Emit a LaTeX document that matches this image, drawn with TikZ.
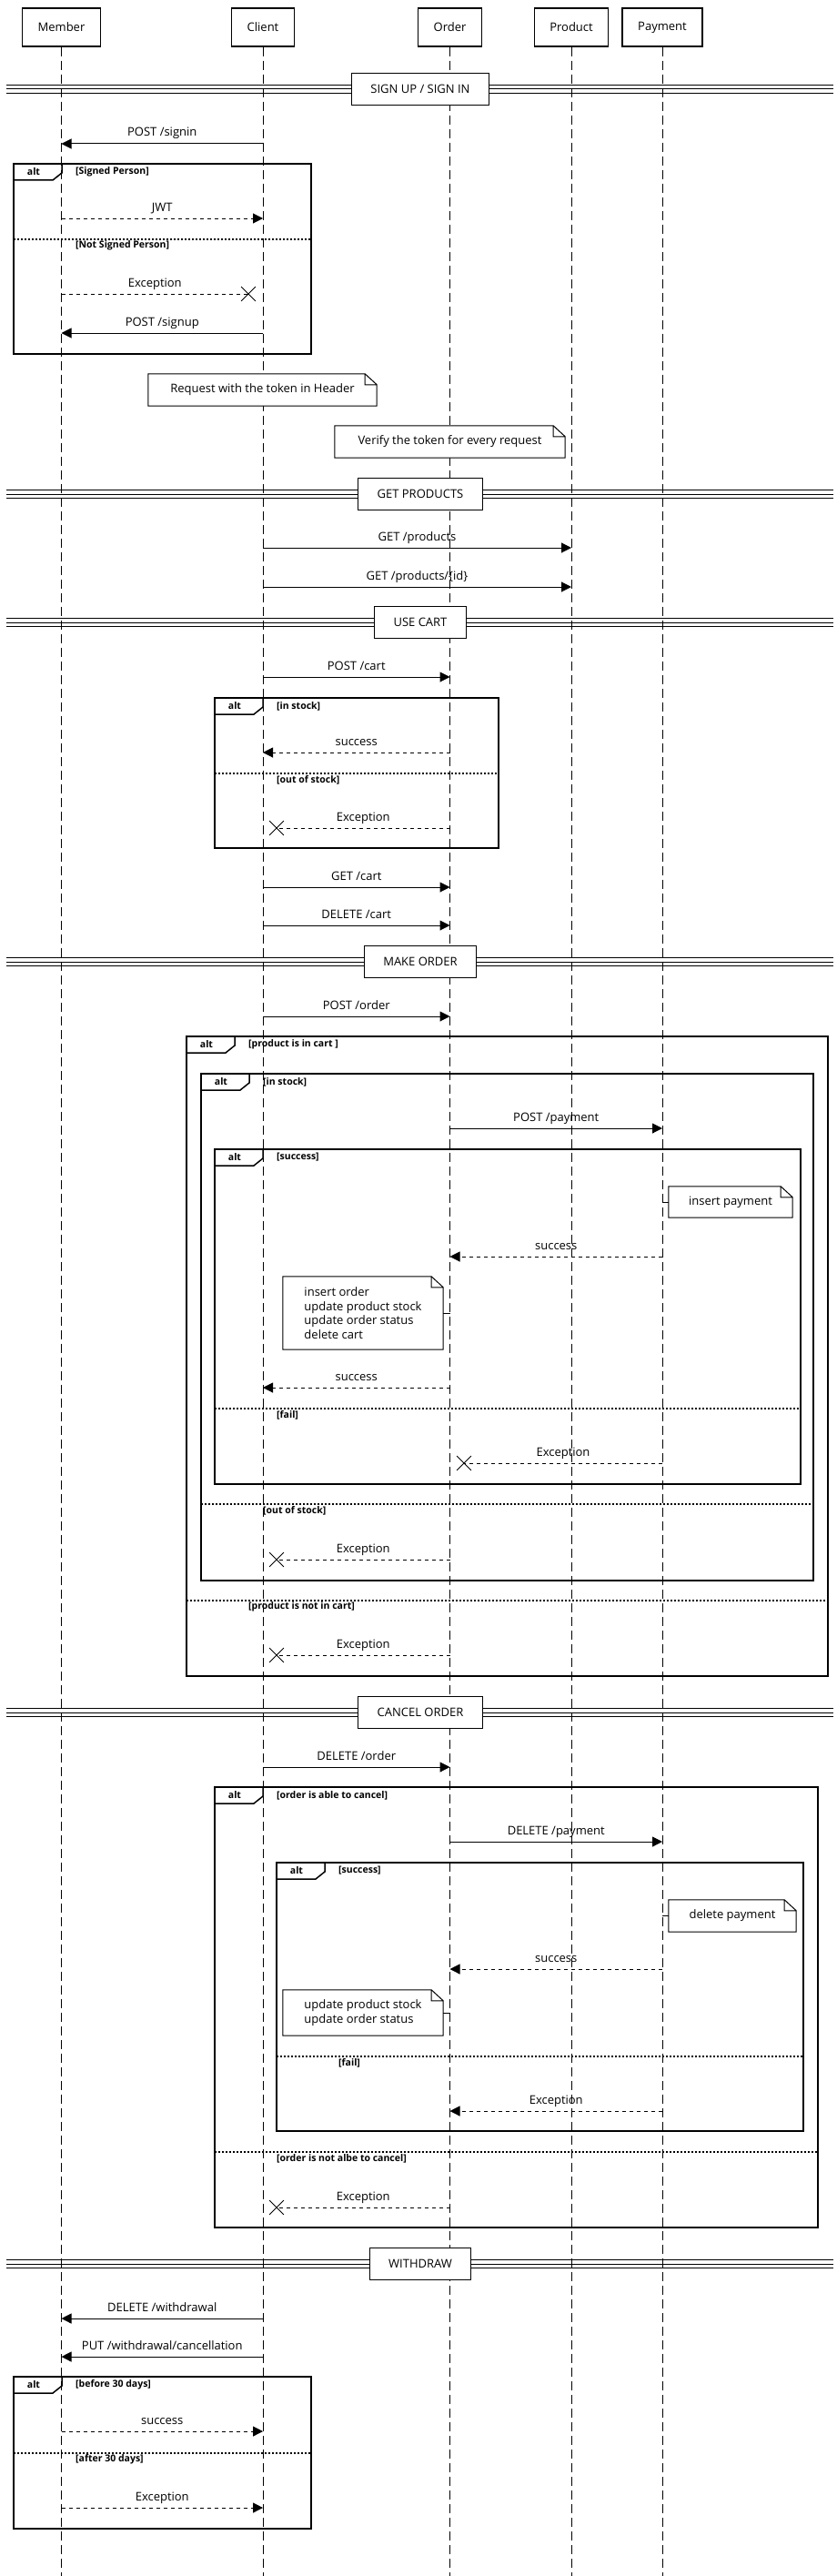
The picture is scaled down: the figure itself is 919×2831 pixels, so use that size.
\documentclass[tikz,border=0pt]{standalone}
\usepackage{fontspec}
\setmainfont{Open Sans}
\usepackage{tikz}
\usetikzlibrary{arrows.meta,positioning,shapes.misc}

\begin{document}
\begin{tikzpicture}[
    x=1pt, y=-1pt,
    every node/.style={font=\fontsize{13}{15.5}\selectfont, align=center},
    actor/.style={rectangle, draw=black, fill=white, line width=1.5pt, minimum height=42pt, inner xsep=17pt},
    lifeline/.style={draw=black, line width=0.9pt, dash pattern=on 10pt off 5pt},
    sepline/.style={draw=black, line width=1pt},
    sectionbox/.style={rectangle, draw=black, fill=white, line width=1.2pt, minimum height=35pt, inner xsep=21pt},
    notebox/.style={rectangle, fill=white, inner sep=0pt},
    noteline/.style={draw=black, line width=1pt},
    frame/.style={draw=black, line width=2pt},
    altsep/.style={draw=black, line width=2pt, dash pattern=on 2pt off 2pt},
    cond/.style={anchor=west, inner sep=0pt, font=\fontsize{10.5}{12}\selectfont\bfseries},
    msg/.style={-{Triangle[length=11pt, width=11pt]}, line width=1pt},
    reply/.style={msg, dash pattern=on 4pt off 4pt},
    lost/.style={line width=1pt, dash pattern=on 4pt off 4pt},
    lbl/.style={above=5pt, inner sep=0pt, text height=9pt, text depth=2.5pt},
    xmark/.style={cross out, draw=black, line width=0.8pt, minimum size=15pt, inner sep=0pt},
    pics/alttab/.style={code={
        \draw[line width=1.5pt] (53,0) -- (53,10) -- (43,18) -- (0,18);
        \node[font=\fontsize{10.5}{12}\selectfont\bfseries] (-name) at (22,9) {alt};
    }}
]
\useasboundingbox (0,0) rectangle (919,2831);

% participants
\node[actor] (member) at (67.5,30) {Member};
\node[actor] (client) at (289,30) {Client};
\node[actor] (order) at (494.5,30) {Order};
\node[actor] (product) at (628,30) {Product};
\node[actor] (payment) at (728,30) {Payment};

\foreach \p in {member, client, order, product, payment}
    \draw[lifeline] (\p.south) -- (\p.south |- 0,2831);

% section bars
\foreach \c in {98, 543, 684, 1057, 1882, 2488}
    \foreach \d in {-4.5, 0, 4.5}
        \draw[sepline] (7,{\c+\d}) -- (916,{\c+\d});

\node[sectionbox] (signsec) at (462,98) {SIGN UP / SIGN IN};
\node[sectionbox] (productsec) at (462,543) {GET PRODUCTS};
\node[sectionbox] (cartsec) at (462,684) {USE CART};
\node[sectionbox] (ordersec) at (462,1057) {MAKE ORDER};
\node[sectionbox] (cancelsec) at (462,1882) {CANCEL ORDER};
\node[sectionbox] (withdrawsec) at (462,2488) {WITHDRAW};

% notes
\node[notebox, minimum width=251pt, minimum height=35pt] (tokennote) at (288.5,428.5) {Request with the token in Header};
\node[notebox, minimum width=253pt, minimum height=35pt] (verifynote) at (494.5,485.5) {Verify the token for every request};
\node[notebox, minimum width=136pt, minimum height=34pt] (paynote) at (803,1321) {insert payment};
\node[notebox, minimum width=176pt, minimum height=80pt, align=left] (ordernote) at (399,1443) {insert order\\update product stock\\update order status\\delete cart};
\node[notebox, minimum width=140pt, minimum height=35pt] (delpaynote) at (805,2105.5) {delete payment};
\node[notebox, minimum width=176pt, minimum height=50pt, align=left] (stocknote) at (399,2212) {update product stock\\update order status};

\foreach \n in {tokennote, verifynote, paynote, ordernote, delpaynote, stocknote}
    \draw[noteline] (\n.north west) -- ([xshift=-13pt]\n.north east) -- ([yshift=-12pt]\n.north east)
        -- (\n.south east) -- (\n.south west) -- cycle
        ([xshift=-13pt]\n.north east) |- ([yshift=-12pt]\n.north east);

\draw[noteline] (payment |- paynote.west) -- (paynote.west);
\draw[noteline] (order |- ordernote.east) -- (ordernote.east);
\draw[noteline] (payment |- delpaynote.west) -- (delpaynote.west);
\draw[noteline] (order |- stocknote.east) -- (stocknote.east);

% alt frames
\draw[frame] (15,180) rectangle (342,389);
\pic (signalt) at (15,180) {alttab};
\node[cond] (signyes) at (83,189) {[Signed Person]};
\draw[altsep] (15,263) -- (342,263);
\node[cond] (signno) at (83,270) {[Not Signed Person]};

\draw[frame] (236,767) rectangle (548,932);
\pic (cartalt) at (236,767) {alttab};
\node[cond] (cartyes) at (304,776) {[in stock]};
\draw[altsep] (236,850) -- (548,850);
\node[cond] (cartno) at (304,857) {[out of stock]};

\draw[frame] (205,1139) rectangle (910,1842);
\pic (incartalt) at (205,1139) {alttab};
\node[cond] (incartyes) at (273,1148) {[product is in cart ]};
\draw[altsep] (205,1759) -- (910,1759);
\node[cond] (incartno) at (273,1766) {[product is not in cart]};

\draw[frame] (221,1180) rectangle (894,1737);
\pic (stockalt) at (221,1180) {alttab};
\node[cond] (stockyes) at (289,1189) {[in stock]};
\draw[altsep] (221,1653) -- (894,1653);
\node[cond] (stockno) at (289,1660) {[out of stock]};

\draw[frame] (236,1263) rectangle (880,1631);
\pic (payalt) at (236,1263) {alttab};
\node[cond] (payyes) at (304,1272) {[success]};
\draw[altsep] (236,1548) -- (880,1548);
\node[cond] (payno) at (304,1555) {[fail]};

\draw[frame] (236,1964) rectangle (899,2448);
\pic (cancelalt) at (236,1964) {alttab};
\node[cond] (cancelyes) at (304,1973) {[order is able to cancel]};
\draw[altsep] (236,2365) -- (899,2365);
\node[cond] (cancelno) at (304,2372) {[order is not albe to cancel]};

\draw[frame] (304,2047) rectangle (883,2342);
\pic (refundalt) at (304,2047) {alttab};
\node[cond] (refundyes) at (372,2056) {[success]};
\draw[altsep] (304,2260) -- (883,2260);
\node[cond] (refundno) at (372,2267) {[fail]};

\draw[frame] (15,2612) rectangle (342,2779);
\pic (daysalt) at (15,2612) {alttab};
\node[cond] (daysyes) at (83,2621) {[before 30 days]};
\draw[altsep] (15,2696) -- (342,2696);
\node[cond] (daysno) at (83,2703) {[after 30 days]};

% lost messages
\node[xmark] (xsign) at (273,323) {};
\node[xmark] (xcart) at (304,910) {};
\node[xmark] (xpay) at (510,1608) {};
\node[xmark] (xstock) at (304,1714) {};
\node[xmark] (xincart) at (304,1819) {};
\node[xmark] (xcancel) at (304,2426) {};

% messages
\draw[msg] (client |- 0,158) -- node[lbl] {POST /signin} (member |- 0,158);
\draw[reply] (member |- 0,240) -- node[lbl] {JWT} (client |- 0,240);
\draw[lost] (member |- xsign) -- node[lbl] {Exception} (xsign.center);
\draw[msg] (client |- 0,366) -- node[lbl] {POST /signup} (member |- 0,366);

\draw[msg] (client |- 0,602) -- node[lbl] {GET /products} (product |- 0,602);
\draw[msg] (client |- 0,645) -- node[lbl] {GET /products/\{id\}} (product |- 0,645);

\draw[msg] (client |- 0,744) -- node[lbl] {POST /cart} (order |- 0,744);
\draw[reply] (order |- 0,827) -- node[lbl] {success} (client |- 0,827);
\draw[lost] (order |- xcart) -- node[lbl] {Exception} (xcart.center);
\draw[msg] (client |- 0,975) -- node[lbl] {GET /cart} (order |- 0,975);
\draw[msg] (client |- 0,1017) -- node[lbl] {DELETE /cart} (order |- 0,1017);

\draw[msg] (client |- 0,1117) -- node[lbl] {POST /order} (order |- 0,1117);
\draw[msg] (order |- 0,1240) -- node[lbl] {POST /payment} (payment |- 0,1240);
\draw[reply] (payment |- 0,1381) -- node[lbl] {success} (order |- 0,1381);
\draw[reply] (order |- 0,1525) -- node[lbl] {success} (client |- 0,1525);
\draw[lost] (payment |- xpay) -- node[lbl] {Exception} (xpay.center);
\draw[lost] (order |- xstock) -- node[lbl] {Exception} (xstock.center);
\draw[lost] (order |- xincart) -- node[lbl] {Exception} (xincart.center);

\draw[msg] (client |- 0,1942) -- node[lbl] {DELETE /order} (order |- 0,1942);
\draw[msg] (order |- 0,2024) -- node[lbl] {DELETE /payment} (payment |- 0,2024);
\draw[reply] (payment |- 0,2164) -- node[lbl] {success} (order |- 0,2164);
\draw[reply] (payment |- 0,2320) -- node[lbl] {Exception} (order |- 0,2320);
\draw[lost] (order |- xcancel) -- node[lbl] {Exception} (xcancel.center);

\draw[msg] (client |- 0,2548) -- node[lbl] {DELETE /withdrawal} (member |- 0,2548);
\draw[msg] (client |- 0,2590) -- node[lbl] {PUT /withdrawal/cancellation} (member |- 0,2590);
\draw[reply] (member |- 0,2672) -- node[lbl] {success} (client |- 0,2672);
\draw[reply] (member |- 0,2756) -- node[lbl] {Exception} (client |- 0,2756);

\end{tikzpicture}
\end{document}
